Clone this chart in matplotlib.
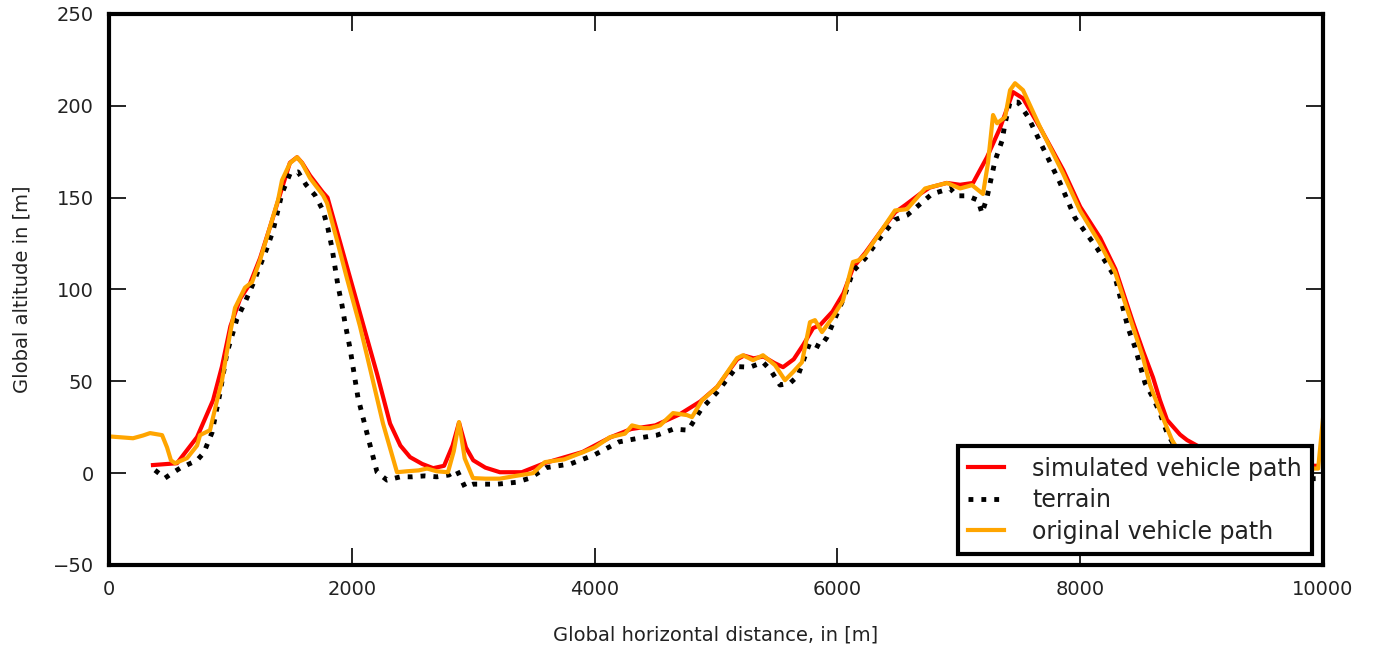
import numpy as np
import matplotlib
matplotlib.use("Agg")
import matplotlib.pyplot as plt

# simulated vehicle path (red)
sim_x = [362, 560, 725, 857, 930, 1000, 1080, 1160, 1244, 1326, 1410, 1490, 1549, 1590,
         1656, 1760, 1800, 1900, 2010, 2110, 2208, 2315, 2400, 2480, 2580, 2670, 2760,
         2830, 2883, 2940, 3000, 3100, 3220, 3400, 3590, 3900, 4130, 4300, 4500, 4700,
         4870, 5010, 5175, 5230, 5310, 5390, 5480, 5552, 5640, 5720, 5800, 5857, 5960,
         6050, 6130, 6230, 6350, 6475, 6560, 6680, 6760, 6900, 7010, 7117, 7232, 7340,
         7446, 7530, 7670, 7860, 8000, 8165, 8290, 8435, 8520, 8600, 8657, 8715, 8822,
         8880, 8962, 9100, 9300, 9600, 9950]
sim_y = [4.4, 5.4, 19.6, 39.7, 58, 80, 95, 103, 117, 134, 152, 169, 172, 169,
         162, 153, 150, 126.5, 100.6, 77, 54, 27, 15, 8.7, 5, 2.7, 4,
         15, 27.5, 14, 7, 3, 0.5, 0.5, 5.5, 11.5, 19.5, 24, 26, 32,
         39, 47, 62, 64, 62.5, 63.5, 60, 57.7, 62, 70, 79, 80.6, 88,
         98, 112, 120, 131, 142, 146, 152, 155.5, 158, 157, 158, 172, 188,
         207.5, 204, 188, 165, 145, 128, 111, 82, 66, 52, 39.7, 29, 21,
         18, 15, 10, 6, 4.5, 4]

# terrain (black dotted)
ter_x = [379, 461, 520, 585, 725, 780, 848, 914, 970, 1054, 1120, 1186, 1301, 1351, 1425,
         1491, 1557, 1623, 1697, 1763, 1804, 1837, 1862, 1886, 1919, 1944, 1985, 2051,
         2133, 2208, 2290, 2400, 2500, 2600, 2700, 2800, 2866, 2932, 3000, 3200, 3350,
         3468, 3600, 3800, 4000, 4200, 4400, 4514, 4650, 4770, 4880, 5008, 5173, 5280,
         5387, 5450, 5527, 5610, 5675, 5774, 5857, 5914, 6050, 6130, 6230, 6350, 6474,
         6573, 6779, 6928, 6985, 7068, 7158, 7191, 7232, 7298, 7356, 7381, 7422, 7488,
         7570, 7694, 7834, 7957, 8138, 8287, 8394, 8451, 8534, 8600, 8657, 8715, 8800,
         9000, 9300, 9600, 9990]
ter_y = [1.6, -2.7, 0, 2.7, 7, 11, 22, 43.5, 65, 84, 93, 103, 122.5, 132, 152.4,
         163, 164, 157, 151.3, 143, 133, 122.5, 112, 102, 91.5, 81.7, 68, 41,
         19.6, 0.5, -3.8, -2, -2, -1.5, -2, -1, 1.6, -7.6, -6, -6, -5,
         -2.7, 3, 5, 10, 17, 19.5, 20.7, 24, 23.4, 35, 44, 58, 57.7,
         60.4, 56, 48, 49, 53, 71.3, 68.6, 74, 95, 110, 117, 128, 138,
         140.4, 152, 155, 151, 151, 148.6, 141.5, 150, 170, 181, 190.5, 202, 202,
         194, 177, 158, 139, 122.5, 106.7, 79, 68.6, 49, 41, 32.7, 22, 12,
         2, -2, -3, -3]

# original vehicle path (orange)
orig_x = [0, 100, 198, 280, 338, 437, 478, 510, 544, 643, 725, 750, 832, 890, 931, 997,
          1038, 1120, 1178, 1244, 1326, 1392, 1425, 1491, 1549, 1590, 1656, 1763, 1796,
          1878, 1960, 2067, 2125, 2257, 2372, 2450, 2550, 2620, 2700, 2792, 2840, 2883,
          2930, 2998, 3100, 3220, 3350, 3493, 3590, 3750, 3904, 4000, 4127, 4250, 4308,
          4399, 4456, 4539, 4646, 4761, 4802, 4885, 5008, 5173, 5222, 5305, 5387, 5486,
          5568, 5634, 5708, 5774, 5815, 5873, 5956, 6046, 6100, 6128, 6180, 6227, 6351,
          6474, 6573, 6722, 6903, 7010, 7109, 7199, 7240, 7282, 7315, 7381, 7422, 7463,
          7529, 7669, 7858, 7998, 8163, 8287, 8435, 8517, 8575, 8657, 8756, 8850, 9000,
          9300, 9600, 9960, 10000]
orig_y = [20, 19.5, 19, 20.5, 21.8, 20.7, 14, 7, 5.4, 8.2, 15, 20.7, 23.4, 39.7, 50.6, 76,
          90, 101, 104, 116, 134, 148.6, 159.5, 168.8, 172, 168.8, 160.6, 151.3, 147,
          126.8, 106, 80, 64, 27, 0.5, 1, 1.5, 2.5, 1, 0.5, 12, 27.8,
          8, -2.7, -3, -3, -1.5, 0, 6, 7.5, 11.4, 14, 19.6, 21.5, 26,
          24.5, 24.5, 26, 32.7, 31.6, 30.5, 39.7, 46.8, 62.6, 64.2, 61.5, 64.2, 58.8,
          50.6, 55, 60.4, 82.2, 83.3, 76.8, 84.4, 94, 108, 115, 116, 119, 131,
          143, 143.7, 155, 158, 155, 156.8, 152, 168.8, 195, 190.5, 193.8, 208.5, 212.3,
          208.5, 188.4, 163.3, 143, 125, 109.4, 79.5, 63, 48, 34, 18, 8, 4,
          3, 2.5, 2.5, 30]

text_col = "#222222"
plt.rcParams['font.family'] = ['DejaVu Sans']

fig = plt.figure(figsize=(13.73, 6.53), dpi=100)
ax = fig.add_axes([0.0794, 0.1348, 0.8842, 0.8438])

ax.plot(sim_x, sim_y, color="red", lw=3, label="simulated vehicle path")
ax.plot(ter_x, ter_y, color="black", lw=3.5, ls=":", label="terrain")
ax.plot(orig_x, orig_y, color="orange", lw=3, label="original vehicle path")

ax.set_xlim(0, 10000)
ax.set_ylim(-50, 250)
ax.set_xticks(np.arange(0, 10001, 2000))
ax.set_yticks(np.arange(-50, 251, 50))
ax.tick_params(direction="in", length=12, width=1.2, top=True, right=True,
               labelsize=14, pad=11, colors="black", labelcolor=text_col)
for s in ax.spines.values():
    s.set_linewidth(3)

ax.set_xlabel("Global horizontal distance, in [m]", fontsize=14, color=text_col, labelpad=19)
ax.set_ylabel("Global altitude in [m]", fontsize=14, color=text_col, labelpad=15)

leg = ax.legend(loc="lower right", fontsize=17, frameon=True, fancybox=False, framealpha=1,
                borderaxespad=0.45, handlelength=1.5, handletextpad=1.2,
                labelspacing=0.32, borderpad=0.45)
leg.get_frame().set_edgecolor("black")
leg.get_frame().set_linewidth(3)
for t in leg.get_texts():
    t.set_color(text_col)

fig.savefig("out.png", dpi=100)
